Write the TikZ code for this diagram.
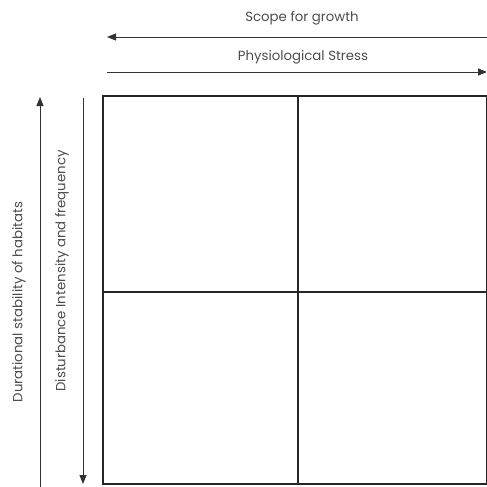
\documentclass[tikz,border=0pt]{standalone}
\usepackage{fontspec}
\setmainfont{Poppins}
\usetikzlibrary{arrows.meta,positioning}
\tikzset{
  axis/.style={draw=black!80, line width=0.9pt},
  axarrow/.style={axis, -{Triangle[length=9pt,width=7pt]}},
  cell/.style={draw=black!85, line width=1.2pt},
  lbl/.style={font=\fontsize{13.3}{15}\selectfont, text=black!70, inner sep=0pt}
}
\begin{document}
\begin{tikzpicture}[x=1pt, y=-1pt]
  \useasboundingbox (0,0) rectangle (487,487);

  % ---- top axes ----
  \coordinate (sgR) at (487,37);
  \coordinate (sgL) at (107,37);
  \coordinate (psL) at (107,72);
  \coordinate (psR) at (487,72);
  \draw[axarrow] (sgR) -- (sgL);
  \draw[axarrow] (psL) -- (psR);
  \node[lbl] (sg) at (302,18) {Scope for growth};
  \node[lbl] (ps) at (303,57) {Physiological Stress};

  % ---- left axes ----
  \coordinate (dsB) at (40,487);
  \coordinate (dsT) at (40,97);
  \coordinate (diT) at (83,98);
  \coordinate (diB) at (83,484);
  \draw[axarrow] (dsB) -- (dsT);
  \draw[axarrow] (diT) -- (diB);
  \node[lbl, rotate=90] (ds) at (19,302) {Durational stability of habitats};
  \node[lbl, rotate=90] (di) at (62,271) {Disturbance Intensity and frequency};

  % ---- grid ----
  \draw[cell] (103,96) rectangle (487,484);
  \draw[cell] (298,96) -- (298,484);
  \draw[cell] (103,292) -- (487,292);
\end{tikzpicture}
\end{document}
